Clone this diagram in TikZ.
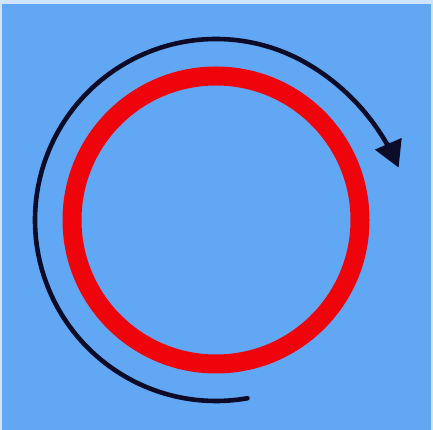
\documentclass[tikz,border=0pt]{standalone}
\usetikzlibrary{arrows.meta}
\definecolor{bgblue}{RGB}{98,167,244}
\definecolor{edge}{RGB}{205,228,250}
\definecolor{ringred}{RGB}{240,4,12}
\definecolor{arcblack}{RGB}{12,12,40}
\tikzset{
  ring/.style={draw=ringred, line width=19pt},
  turnarrow/.style={draw=arcblack, line width=4.6pt, -{Triangle[length=26pt,width=28pt]}},
}
\begin{document}
\begin{tikzpicture}[x=1pt,y=1pt]
\useasboundingbox (0,0) rectangle (433,430);
\fill[edge] (0,0) rectangle (433,430);
\fill[bgblue] (2,0) rectangle (431,426);
\coordinate (c) at (216,210);
\draw[ring] (c) circle[radius=144];
\draw[turnarrow, line cap=round] plot[domain=-80:-344, samples=150, smooth]
  ({216+(181+9*max(0,(-300-\x)/44)^2)*cos(\x)}, {210+(181+9*max(0,(-300-\x)/44)^2)*sin(\x)});
\end{tikzpicture}
\end{document}
